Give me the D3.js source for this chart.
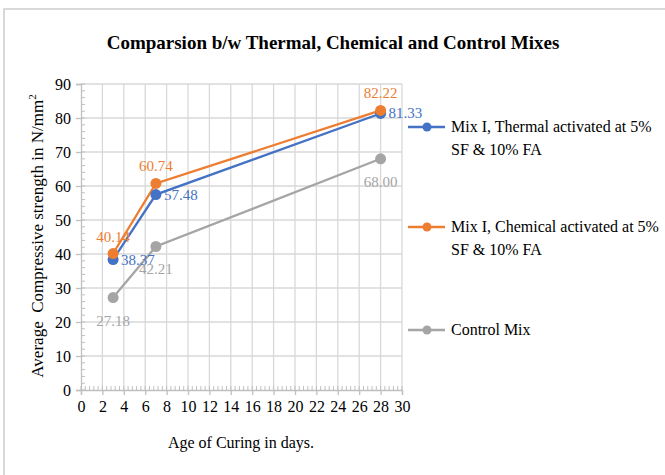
<!DOCTYPE html>
<html>
<head>
<meta charset="utf-8">
<script src="https://d3js.org/d3.v7.min.js"></script>
<style>
  body { margin: 0; background: #fff; }
  text { font-family: "Liberation Serif", "Times New Roman", serif; }
</style>
</head>
<body>
<svg id="chart" width="665" height="475"></svg>
<script>
// data
var days = [3, 7, 28];
var thermal = [38.37, 57.48, 81.33];
var chemical = [40.14, 60.74, 82.22];
var control = [27.18, 42.21, 68.00];
var seriesNames = [
  ["Mix I, Thermal activated at 5%", "SF & 10% FA"],
  ["Mix I, Chemical activated at 5%", "SF & 10% FA"],
  ["Control Mix"]
];
var colors = ["#4472C4", "#ED7D31", "#A5A5A5"];
var xTicks = d3.range(0, 31, 2);
var yTicks = d3.range(0, 91, 10);

var series = [
  { name: seriesNames[0], vals: thermal, color: colors[0], lab: "right" },
  { name: seriesNames[1], vals: chemical, color: colors[1], lab: "above" },
  { name: seriesNames[2], vals: control, color: colors[2], lab: "below" }
];

var svg = d3.select("#chart");

// outer frame
svg.append("rect")
  .attr("x", 4).attr("y", 9)
  .attr("width", 680).attr("height", 480)
  .attr("fill", "none").attr("stroke", "#d9d9d9").attr("stroke-width", 2);

// title
svg.append("text")
  .attr("x", 333).attr("y", 49)
  .attr("text-anchor", "middle")
  .attr("style", "font-size:19px; font-weight:bold")
  .text("Comparsion b/w Thermal, Chemical and Control Mixes");

var x = d3.scaleLinear().domain([0, 30]).range([81, 402]);
var y = d3.scaleLinear().domain([0, 90]).range([390, 84]);

// grid
svg.append("g").selectAll("line")
  .data(xTicks.slice(1))
  .enter().append("line")
    .attr("x1", d => x(d)).attr("x2", d => x(d))
    .attr("y1", y(0)).attr("y2", y(90))
    .attr("stroke", "#d9d9d9").attr("stroke-width", 1.3);
svg.append("g").selectAll("line")
  .data(yTicks.slice(1))
  .enter().append("line")
    .attr("x1", x(0)).attr("x2", x(30))
    .attr("y1", d => y(d)).attr("y2", d => y(d))
    .attr("stroke", "#d9d9d9").attr("stroke-width", 1.3);

// minor ticks
svg.append("g").selectAll("line")
  .data(d3.range(0, 30.01, 0.4))
  .enter().append("line")
    .attr("x1", d => x(d)).attr("x2", d => x(d))
    .attr("y1", y(0)).attr("y2", y(0) - 4)
    .attr("stroke", "#bfbfbf").attr("stroke-width", 1);
svg.append("g").selectAll("line")
  .data(d3.range(0, 90.01, 2))
  .enter().append("line")
    .attr("x1", x(0)).attr("x2", x(0) + 4)
    .attr("y1", d => y(d)).attr("y2", d => y(d))
    .attr("stroke", "#bfbfbf").attr("stroke-width", 1);

// axes
var xAxis = svg.append("g")
  .attr("transform", "translate(0," + y(0) + ")")
  .call(d3.axisBottom(x).tickValues(xTicks).tickSize(5).tickPadding(6));
var yAxis = svg.append("g")
  .attr("transform", "translate(" + x(0) + ",0)")
  .call(d3.axisLeft(y).tickValues(yTicks).tickSize(5).tickPadding(5));
[xAxis, yAxis].forEach(function(g) {
  g.select(".domain").attr("stroke", "#bfbfbf").attr("stroke-width", 1.3);
  g.selectAll(".tick line").attr("stroke", "#bfbfbf").attr("stroke-width", 1.3);
  g.selectAll(".tick text")
    .attr("fill", "#000")
    .attr("style", "font-size:16px; font-family:'Liberation Serif', serif");
});

// axis titles
svg.append("text")
  .attr("transform", "translate(43,236) rotate(-90)")
  .attr("text-anchor", "middle")
  .attr("style", "font-size:17px")
  .html("Average&#160; Compressive strength in N/mm<tspan dy='-7' style='font-size:11px'>2</tspan>");
svg.append("text")
  .attr("x", 241).attr("y", 448)
  .attr("text-anchor", "middle")
  .attr("style", "font-size:16px")
  .text("Age of  Curing in days.");

// lines
var line = d3.line()
  .x((d, i) => x(days[i]))
  .y(d => y(d));

series.forEach(function(s) {
  svg.append("path")
    .datum(s.vals)
    .attr("d", line)
    .attr("fill", "none")
    .attr("stroke", s.color)
    .attr("stroke-width", 2.3);
});

series.forEach(function(s) {
  svg.append("g").selectAll("circle")
    .data(s.vals)
    .enter().append("circle")
      .attr("cx", (d, i) => x(days[i]))
      .attr("cy", d => y(d))
      .attr("r", 5.5)
      .attr("fill", s.color);
});

// data labels
series.forEach(function(s) {
  svg.append("g").selectAll("text")
    .data(s.vals)
    .enter().append("text")
      .attr("x", (d, i) => s.lab == "right" ? x(days[i]) + 8 : x(days[i]))
      .attr("y", d => s.lab == "right" ? y(d) + 5 : s.lab == "above" ? y(d) - 12 : y(d) + 28)
      .attr("text-anchor", s.lab == "right" ? "start" : "middle")
      .attr("fill", s.color)
      .attr("style", "font-size:15px")
      .text(d => d.toFixed(2));
});

// legend
var legendY = [127, 227, 330];
series.forEach(function(s, i) {
  var g = svg.append("g").attr("transform", "translate(408," + legendY[i] + ")");
  g.append("line")
    .attr("x1", 0).attr("x2", 37)
    .attr("stroke", s.color).attr("stroke-width", 2.3);
  g.append("circle").attr("cx", 19).attr("r", 4.5).attr("fill", s.color);
  g.selectAll("text")
    .data(s.name)
    .enter().append("text")
      .attr("x", 43)
      .attr("y", (d, j) => 5 + j * 23)
      .attr("style", "font-size:16px")
      .attr("fill", "#000")
      .text(d => d);
});
</script>
</body>
</html>
